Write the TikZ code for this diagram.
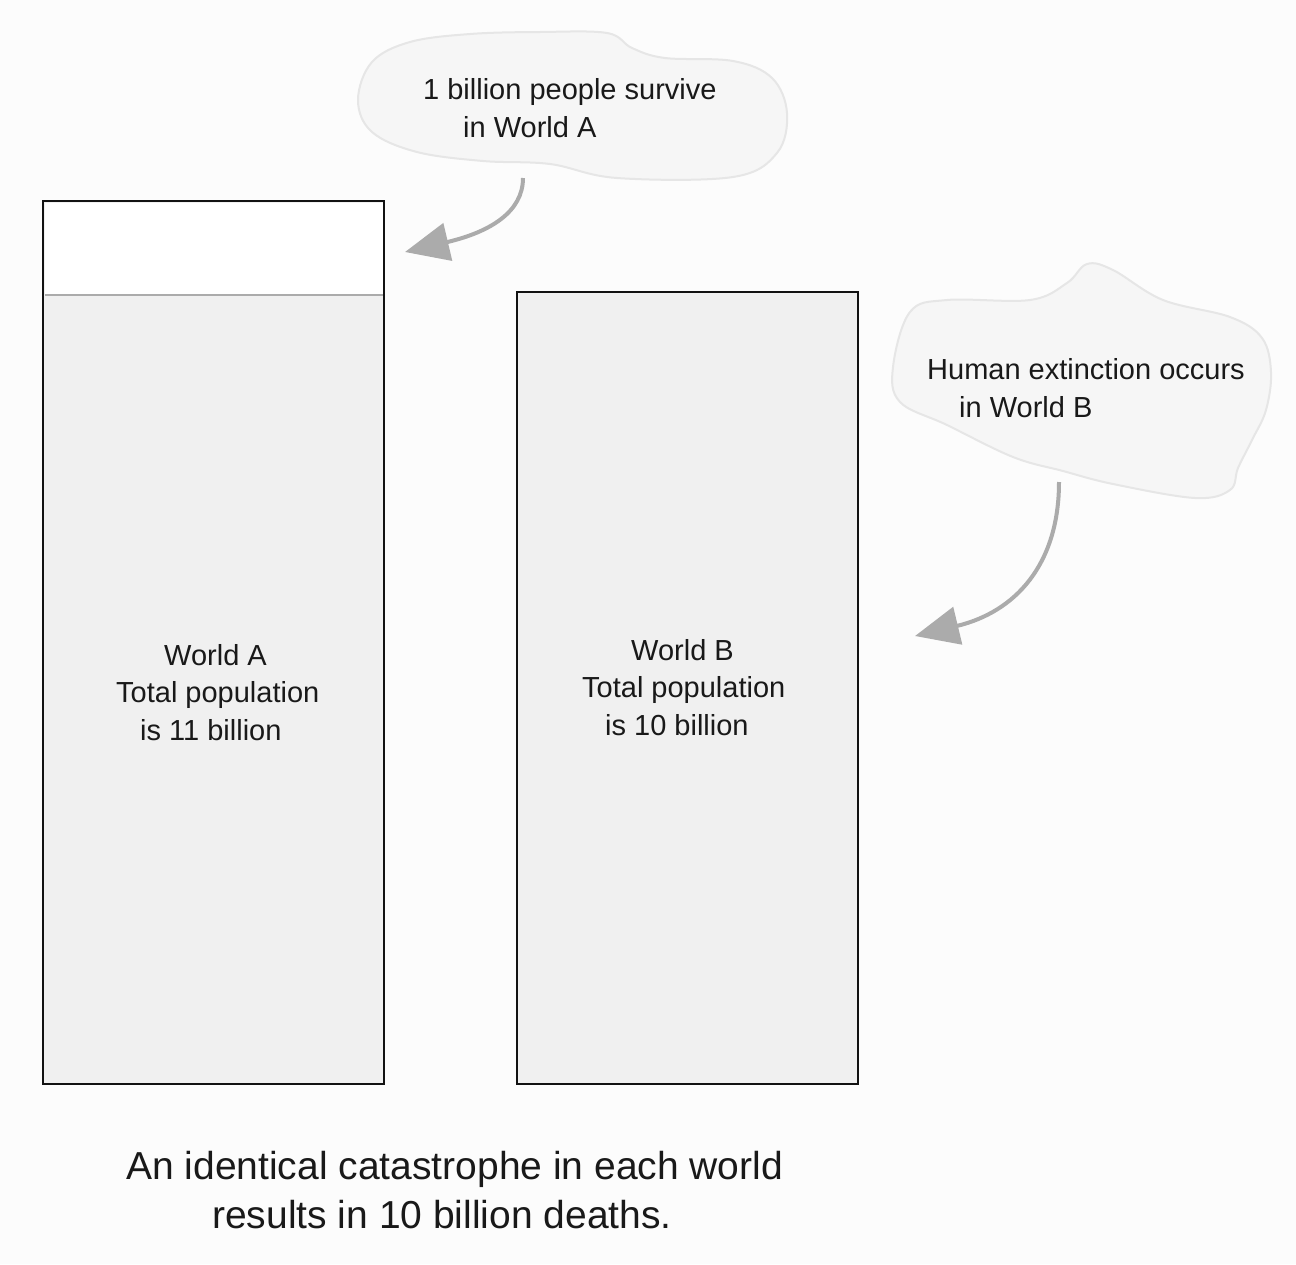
\documentclass[tikz,border=0pt]{standalone}
\usepackage{fontspec}
\setmainfont{Liberation Sans}
\usetikzlibrary{arrows.meta}
\definecolor{bg}{HTML}{FCFCFC}
\definecolor{boxfill}{HTML}{F0F0F0}
\definecolor{cloudfill}{HTML}{F6F6F6}
\definecolor{cloudedge}{HTML}{E6E6E6}
\definecolor{arrowgray}{HTML}{ABABAB}
\tikzset{
  world/.style={draw=black!93, line width=2.5pt, fill=boxfill},
  cloudshape/.style={fill=cloudfill, draw=cloudedge, line width=2pt},
  lbl/.style={inner sep=0pt, font=\fontsize{29}{37.5}\selectfont, text=black!90, align=left, anchor=base west},
  caption/.style={inner sep=0pt, font=\fontsize{39}{49}\selectfont, text=black!90, align=left, anchor=base west},
  curvedarrow/.style={draw=arrowgray, line width=4pt, -{Triangle[length=44pt,width=38pt]}},
}
\begin{document}
\begin{tikzpicture}[x=1pt,y=-1pt]
\fill[bg] (0,0) rectangle (1296,1264);
\useasboundingbox (0,0) rectangle (1296,1264);

% clouds
\draw[cloudshape] plot[smooth cycle, tension=0.6] coordinates {
 (358,100) (372,62) (410,42) (470,34) (540,32) (607,33) (632,48) (665,58) (733,61)
 (772,78) (787,113) (777,153) (733,177) (617,178) (550,164) (483,161) (417,152) (372,132)};
\draw[cloudshape] plot[smooth cycle, tension=0.6] coordinates {
 (893,367) (910,312) (947,300) (1030,300) (1067,283) (1087,264) (1113,270) (1163,300)
 (1230,317) (1262,338) (1271,372) (1266,410) (1252,440) (1238,468) (1230,490) (1195,498)
 (1113,484) (1063,471) (1013,457) (947,425) (900,402)};

% boxes
\draw[world] (43,201) rectangle (384,1084);
\fill[white] (44.5,202.5) rectangle (382.5,295);
\draw[arrowgray, line width=1.8pt] (44.5,295) -- (382.5,295);
\draw[black!93, line width=2.5pt] (43,201) rectangle (384,1084);
\node (boxA) [inner sep=0pt, minimum width=341pt, minimum height=883pt] at (213.5,642.5) {};
\draw[world] (517,292) rectangle (858,1084);
\node (boxB) [inner sep=0pt, minimum width=341pt, minimum height=792pt] at (687.5,688) {};

% texts (base anchor = baseline of last line)
\node (tA) [lbl] at (423,137) {1 billion people survive\\\hspace*{40pt}in World A};
\node (tB) [lbl] at (927,417) {Human extinction occurs\\\hspace*{32pt}in World B};
\node (wA) [lbl] at (116,740) {\hspace*{48pt}World A\\Total population\\\hspace*{24pt}is 11 billion};
\node (wB) [lbl] at (582,735) {\hspace*{49pt}World B\\Total population\\\hspace*{23pt}is 10 billion};
\node (cap) [caption] at (126,1228) {An identical catastrophe in each world\\\hspace*{86pt}results in 10 billion deaths.};

% arrows
\coordinate (sA) at (523,178);
\coordinate (eA) at (405,252);
\coordinate (sB) at (1059,482);
\coordinate (eB) at (915,636);
\draw[curvedarrow] (sA) .. controls (523,212) and (490,232) .. (eA);
\draw[curvedarrow] (sB) .. controls (1059,565) and (1015,612) .. (eB);
\end{tikzpicture}
\end{document}
